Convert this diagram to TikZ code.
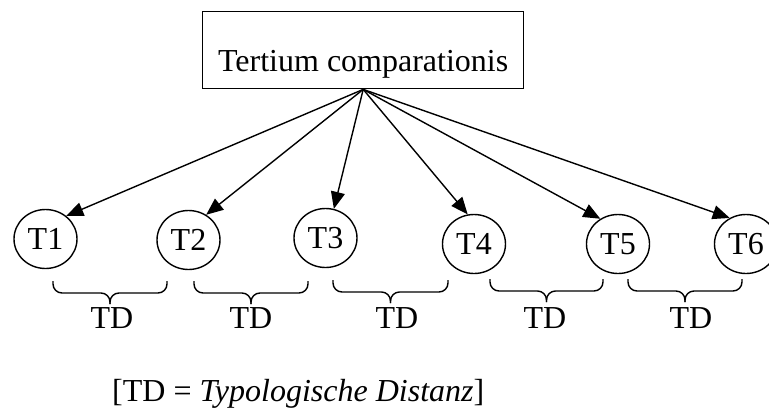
\documentclass[tikz,border=0pt]{standalone}
\usepackage{fontspec}
\setmainfont{Liberation Serif}
\usetikzlibrary{shapes.geometric,arrows.meta}
\tikzset{
  tbox/.style={draw, line width=1.4pt, inner sep=0pt, text height=60pt, text depth=17pt, minimum width=321pt, anchor=north west},
  tnode/.style={draw, ellipse, line width=1.4pt, inner sep=0pt, minimum width=63pt, minimum height=59pt},
  conn/.style={line width=1.4pt, -{Triangle[length=17pt,width=14pt]}},
  tdbrace/.style={line width=1.4pt, rounded corners=9pt},
  tdlabel/.style={anchor=base, inner sep=0pt}
}
\newcommand{\tdbr}[3]{%
  \draw[tdbrace] (#1,#3) |- ({(#1+#2)/2},{#3+12}) -- ({(#1+#2)/2},{#3+23});
  \draw[tdbrace] (#2,#3) |- ({(#1+#2)/2},{#3+12}) -- ({(#1+#2)/2},{#3+23});}
\begin{document}
\begin{tikzpicture}[x=1pt, y=-1pt, font=\fontsize{32}{38}\selectfont]
\useasboundingbox (0,0) rectangle (769,408);
\clip (0,0) rectangle (769,408);
\node[tbox] (tc) at (202,11) {Tertium comparationis};
\node[tnode] (t1) at (45.5,239) {T1};
\node[tnode] (t2) at (188.5,240) {T2};
\node[tnode] (t3) at (325.5,238) {T3};
\node[tnode] (t4) at (474,244) {T4};
\node[tnode] (t5) at (618,244) {T5};
\node[tnode] (t6) at (746,244) {T6};
\draw[conn] (tc.south) -- (t1.48);
\draw[conn] (tc.south) -- (t2.55);
\draw[conn] (tc.south) -- (t3.74);
\draw[conn] (tc.south) -- (t4.102);
\draw[conn] (tc.south) -- (t5.125);
\draw[conn] (tc.south) -- (t6.122);
\tdbr{53}{167}{281}
\tdbr{194}{308}{281}
\tdbr{333}{448}{280}
\tdbr{490}{603}{279}
\tdbr{628}{742}{279}
\node[tdlabel] (td1) at (112,328) {TD};
\node[tdlabel] (td2) at (251,328) {TD};
\node[tdlabel] (td3) at (397,328) {TD};
\node[tdlabel] (td4) at (545,328) {TD};
\node[tdlabel] (td5) at (691,328) {TD};
\node[anchor=base west, inner sep=0pt] (cap) at (112,401) {[TD = \textit{Typologische Distanz}]};
\end{tikzpicture}
\end{document}
